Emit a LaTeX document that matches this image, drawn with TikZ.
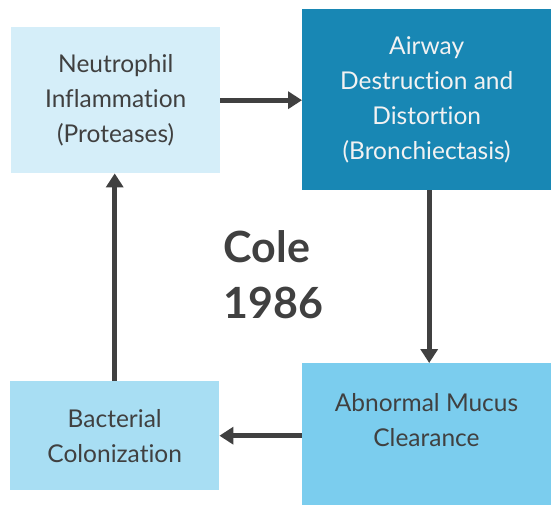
\documentclass[tikz,border=0pt]{standalone}
\usepackage{fontspec}
\setmainfont{Lato}[Ligatures={NoCommon,NoContextual}]
\usetikzlibrary{arrows.meta,positioning}
\definecolor{boxA}{HTML}{D5EEF9}
\definecolor{boxB}{HTML}{1887B4}
\definecolor{boxC}{HTML}{7BCDEE}
\definecolor{boxD}{HTML}{A8DEF3}
\definecolor{ink}{HTML}{404040}
\definecolor{paleink}{HTML}{F2F2F2}
\tikzset{
  stepbox/.style={rectangle, draw=none, inner sep=0pt, anchor=north west,
    align=center, text=ink, font=\fontsize{24.5}{35}\selectfont},
  flow/.style={draw=ink, line width=5pt,
    -{Triangle[length=14pt,width=17pt]}},
}
\begin{document}
\begin{tikzpicture}[x=1pt,y=-1pt]
  \useasboundingbox (0,0) rectangle (551,505);
  % four stages of the cycle
  \node[stepbox, fill=boxA, minimum width=209pt, minimum height=146pt]
    (infl) at (11,27) {Neutrophil\\Inflammation\\(Proteases)};
  \node[stepbox, fill=boxB, text=paleink, minimum width=249pt, minimum height=181pt]
    (airway) at (302,9) {Airway\\Destruction and\\Distortion\\(Bronchiectasis)};
  \node[stepbox, fill=boxC, minimum width=249pt, minimum height=142pt]
    (mucus) at (302,363) {};
  \node[stepbox, anchor=center] (mucustext) at (426.5,420)
    {Abnormal Mucus\\Clearance};
  \node[stepbox, fill=boxD, minimum width=209pt, minimum height=109pt]
    (bact) at (10,381) {Bacterial\\Colonization};
  % title
  \node[anchor=west, text=ink, align=left, font=\bfseries\fontsize{43}{56}\selectfont]
    (title) at (220,275) {Cole\\1986};
  % arrows
  \draw[flow] (infl.east) -- (infl.east -| airway.west);
  \draw[flow] ([xshift=2.5pt]airway.south) -- ([xshift=2.5pt]mucus.north);
  \draw[flow] (mucus.west |- bact.east) -- (bact.east);
  \draw[flow] (bact.north) -- (bact.north |- infl.south);
\end{tikzpicture}
\end{document}
